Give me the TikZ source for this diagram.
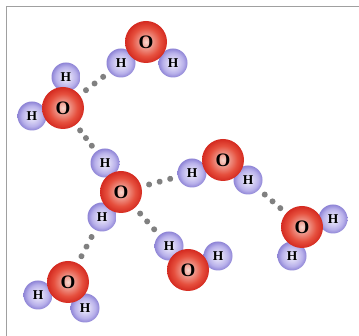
\documentclass[tikz,border=0pt]{standalone}
\usepackage{fontspec}
\setmainfont{Liberation Serif}
\usetikzlibrary{decorations.markings}

\definecolor{ocenter}{RGB}{246,214,206}
\definecolor{omid}{RGB}{230,80,62}
\definecolor{oedge}{RGB}{212,42,32}
\definecolor{hcenter}{RGB}{240,238,252}
\definecolor{hmid}{RGB}{184,176,234}
\definecolor{hedge}{RGB}{142,132,214}
\definecolor{bondgray}{RGB}{128,128,128}
\definecolor{framegray}{RGB}{160,160,160}

% radial shadings for the two kinds of atoms (edge of circle = 25bp)
\pgfdeclareradialshading{oxyball}{\pgfpoint{0bp}{0bp}}{%
  color(0bp)=(ocenter); color(8bp)=(ocenter!50!omid); color(17bp)=(omid);
  color(25bp)=(oedge); color(50bp)=(oedge)}
\pgfdeclareradialshading{hydball}{\pgfpoint{0bp}{0bp}}{%
  color(0bp)=(hcenter); color(9bp)=(hcenter!55!hmid); color(18bp)=(hmid);
  color(25bp)=(hedge); color(50bp)=(hedge)}

\tikzset{
  oxy/.style={circle, minimum size=42pt, inner sep=0pt, shading=oxyball,
    font=\fontsize{19}{19}\selectfont\bfseries, text=black},
  hyd/.style={circle, minimum size=29pt, inner sep=0pt, shading=hydball,
    font=\fontsize{13.5}{13.5}\selectfont\bfseries, text=black},
  hbond/.style={decorate, decoration={markings,
    mark=at position 0.21 with {\fill[bondgray] (0,0) circle (3pt);},
    mark=at position 0.5 with {\fill[bondgray] (0,0) circle (3pt);},
    mark=at position 0.79 with {\fill[bondgray] (0,0) circle (3pt);}}},
  frame/.style={draw=framegray, line width=1.4pt}
}

\begin{document}
\begin{tikzpicture}[x=1pt, y=-1pt]
\useasboundingbox (0,0) rectangle (359,336);
\fill[white] (0,0) rectangle (359,336);

% frame along the top and left side
\coordinate (fbl) at (6.5,336);
\coordinate (ftl) at (6.5,6.5);
\coordinate (ftr) at (359,6.5);
\draw[frame] (fbl) -- (ftl) -- (ftr);

% hydrogen atoms (drawn first, oxygen sits on top)
\node[hyd] (aHl) at (121,63) {H};
\node[hyd] (aHr) at (173,63) {H};
\node[hyd] (bHt) at (66,77) {H};
\node[hyd] (bHl) at (32,116) {H};
\node[hyd] (cHt) at (105,163) {H};
\node[hyd] (cHb) at (102,217) {H};
\node[hyd] (dHl) at (192,173) {H};
\node[hyd] (dHr) at (248,180) {H};
\node[hyd] (eHr) at (333,219) {H};
\node[hyd] (eHb) at (292,256) {H};
\node[hyd] (fHt) at (169,246) {H};
\node[hyd] (fHr) at (218,256) {H};
\node[hyd] (gHl) at (38,295) {H};
\node[hyd] (gHb) at (85,308) {H};

% oxygen atoms
\node[oxy] (aO) at (146,42) {O};
\node[oxy] (bO) at (63,108) {O};
\node[oxy] (cO) at (121,192) {O};
\node[oxy] (dO) at (223,160) {O};
\node[oxy] (eO) at (302,227) {O};
\node[oxy] (fO) at (188,270) {O};
\node[oxy] (gO) at (68,282) {O};

% hydrogen bonds
\path[hbond] (bO) -- (aHl);
\path[hbond] (bO) -- (cHt);
\path[hbond] (cO) -- (dHl);
\path[hbond] (cO) -- (fHt);
\path[hbond] (cHb) -- (gO);
\path[hbond] (dHr) -- (eO);
\end{tikzpicture}
\end{document}
